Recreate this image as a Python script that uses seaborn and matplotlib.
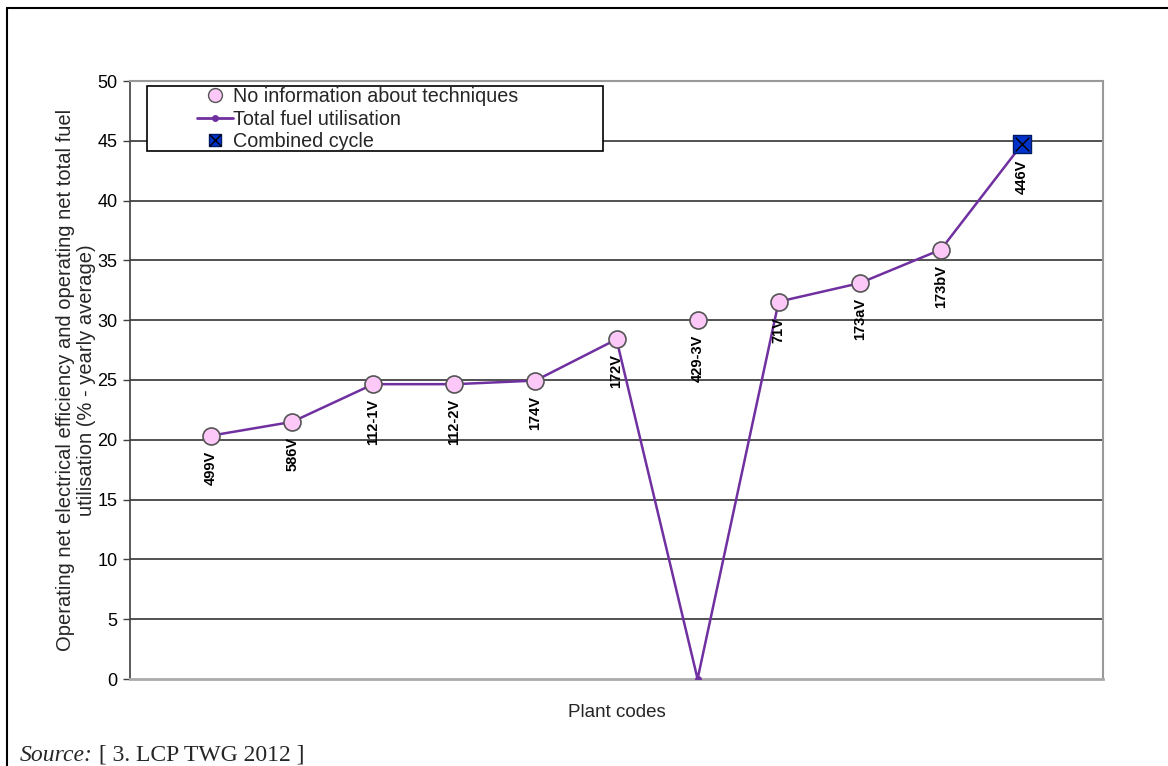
import matplotlib
matplotlib.use('Agg')
import matplotlib.pyplot as plt
from matplotlib.lines import Line2D
from matplotlib.patches import Rectangle
from matplotlib.legend_handler import HandlerTuple
import numpy as np
import pandas as pd
import seaborn as sns

# plant codes along the x axis
codes = ['499V', '586V', '112-1V', '112-2V', '174V', '172V', '429-3V',
         '71V', '173aV', '173bV', '446V']
# operating net electrical efficiency (pink markers, no info on techniques)
no_info = [20.35, 21.5, 24.65, 24.65, 24.95, 28.4, 30.05, 31.55, 33.1, 35.9, np.nan]
# combined cycle plant (blue square)
combined = [np.nan] * 10 + [44.7]
# total fuel utilisation (purple line)
total_fuel = [20.35, 21.5, 24.65, 24.65, 24.95, 28.4, 0.0, 31.55, 33.1, 35.9, 44.7]

pos = np.arange(1, len(codes) + 1)
df = pd.DataFrame({'pos': pos, 'code': codes, 'no_info': no_info,
                   'combined': combined, 'total_fuel': total_fuel})

sns.set_theme(style='white')
plt.rcParams['font.family'] = ['Liberation Sans', 'DejaVu Sans']

fig = plt.figure(figsize=(11.68, 7.66), dpi=100)
ax = fig.add_axes([130 / 1168, 1 - 679 / 766, 973 / 1168, 598 / 766])

purple = '#7030A0'
pink = '#FBC8F7'
blue = '#0033CC'

sns.lineplot(data=df, x='pos', y='total_fuel', ax=ax, color=purple, lw=1.8,
             marker='o', markersize=5, markeredgewidth=0, zorder=3)
sns.scatterplot(data=df, x='pos', y='no_info', ax=ax, color=pink, s=150,
                edgecolor='#555555', linewidth=1.2, zorder=4)
sns.scatterplot(data=df, x='pos', y='combined', ax=ax, color=blue, marker='s',
                s=150, edgecolor='#001a66', linewidth=1, zorder=4)
sns.scatterplot(data=df, x='pos', y='combined', ax=ax, color='black', marker='x',
                s=100, linewidth=1, zorder=5)

# point labels
for p, c, a, b in zip(pos, codes, no_info, combined):
    y = b if np.isnan(a) else a
    ax.annotate(c, (p, y), xytext=(0, -15), textcoords='offset pixels',
                rotation=90, ha='center', va='top', fontsize=10.5,
                fontweight='bold', color='black', zorder=6)

ax.set_xlim(0, 12)
ax.set_ylim(0, 50)
ax.set_yticks(np.arange(0, 51, 5))
ax.set_xticks([])
ax.tick_params(axis='y', length=5, width=1, color='#404040', labelsize=13,
               labelcolor='black', left=True, pad=4)
for g in np.arange(5, 50, 5):
    ax.axhline(g, color='#222222', lw=1.1, zorder=1)

ax.spines['left'].set_color('#404040')
ax.spines['left'].set_linewidth(1.2)
ax.spines['bottom'].set_color('#aaaaaa')
ax.spines['bottom'].set_linewidth(2)
ax.spines['top'].set_color('#999999')
ax.spines['top'].set_linewidth(1.5)
ax.spines['right'].set_color('#999999')
ax.spines['right'].set_linewidth(1.5)

ax.set_xlabel('Plant codes', fontsize=13.5, labelpad=18)
ax.set_ylabel('Operating net electrical efficiency and operating net total fuel\n'
              'utilisation (% - yearly average)', fontsize=14.5, labelpad=1,
              linespacing=1.1)

# legend box
x0 = (147 - 130) / 973
x1 = (603 - 130) / 973
y1 = (679 - 86) / 598
y0 = (679 - 151) / 598
ax.add_patch(Rectangle((x0, y0), x1 - x0, y1 - y0, transform=ax.transAxes,
                       facecolor='white', edgecolor='black', lw=1.2, zorder=7))

h_pink = Line2D([], [], ls='none', marker='o', markersize=10,
                markerfacecolor=pink, markeredgecolor='#555555')
h_line = Line2D([], [], color=purple, lw=2, marker='o', markersize=5,
                markeredgewidth=0)
h_sq = Line2D([], [], ls='none', marker='s', markersize=9,
              markerfacecolor=blue, markeredgecolor='#001a66')
h_x = Line2D([], [], ls='none', marker='x', markersize=8, color='black', mew=1)
leg = ax.legend([h_pink, h_line, (h_sq, h_x)],
                ['No information about techniques', 'Total fuel utilisation',
                 'Combined cycle'],
                handler_map={tuple: HandlerTuple(ndivide=1, pad=0)},
                loc='upper left', bbox_to_anchor=((197 - 130) / 973, (679 - 87) / 598),
                frameon=False, fontsize=14.2, handlelength=1.8, handletextpad=0.05,
                labelspacing=0.18, borderpad=0, borderaxespad=0)
leg.set_zorder(8)

# page border
fig.add_artist(Line2D([7 / 1168, 1], [1 - 8 / 766, 1 - 8 / 766],
                      transform=fig.transFigure, color='black', lw=1.5))
fig.add_artist(Line2D([7 / 1168, 7 / 1168], [0, 1 - 8 / 766],
                      transform=fig.transFigure, color='black', lw=1.5))

# source note at the bottom edge
src = fig.text(20 / 1168, 1 - 761 / 766, 'Source:', fontsize=17, style='italic',
               family='Liberation Serif', va='baseline')
ax.annotate(' [ 3. LCP TWG 2012 ]', xy=(1, 0), xycoords=src, va='bottom',
            fontsize=17, family='Liberation Serif', annotation_clip=False)

fig.savefig('out.png', dpi=100)
